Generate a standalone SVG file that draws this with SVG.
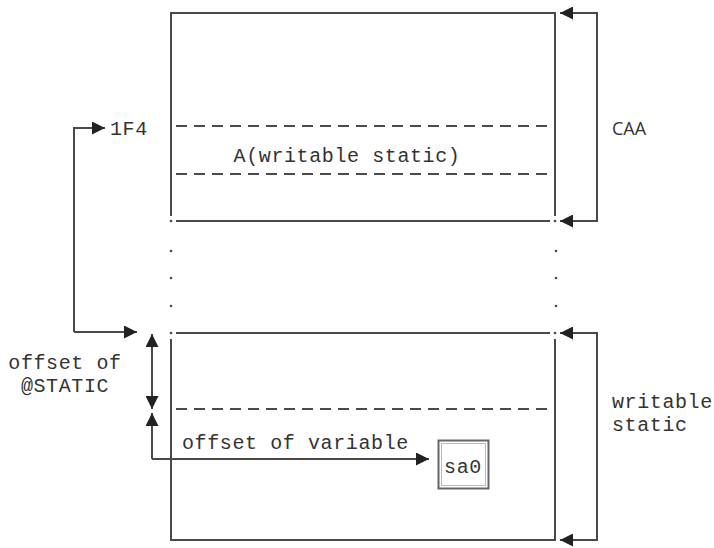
<svg xmlns="http://www.w3.org/2000/svg" width="714" height="548" viewBox="0 0 714 548">
<style>
.ln{stroke:#4a4a4a;stroke-width:2;fill:none}
.ds{stroke:#4a4a4a;stroke-width:2;fill:none;stroke-dasharray:11,7}
.mono{font-family:"Liberation Mono","DejaVu Sans Mono",monospace;font-size:20px;letter-spacing:0.6px;fill:#333}
.sans{font-family:"Open Sans","Liberation Sans",sans-serif;font-size:18px;fill:#333}
.dot{fill:#4a4a4a}
</style>
<defs>
<marker id="ah" viewBox="0 0 10 10" refX="10" refY="5" markerWidth="15" markerHeight="13" markerUnits="userSpaceOnUse" orient="auto">
<path d="M0,0 L10,5 L0,10 z" fill="#222"/>
</marker>
</defs>
<rect width="714" height="548" fill="#fff"/>
<g id="caa-area">
<path class="ln" d="M171,216 V13 H555 V216"/>
<line class="ln" x1="176" y1="221" x2="550" y2="221"/>
<circle class="dot" cx="171" cy="221" r="1.3"/>
<circle class="dot" cx="555" cy="221" r="1.3"/>
<line class="ds" x1="176" y1="126" x2="552" y2="126"/>
<line class="ds" x1="176" y1="174" x2="552" y2="174"/>
<text class="mono" x="347" y="162" text-anchor="middle">A(writable static)</text>
</g>
<g id="gap-dots">
<circle class="dot" cx="171" cy="251" r="1.3"/>
<circle class="dot" cx="171" cy="278" r="1.3"/>
<circle class="dot" cx="171" cy="306" r="1.3"/>
<circle class="dot" cx="556" cy="251" r="1.3"/>
<circle class="dot" cx="556" cy="278" r="1.3"/>
<circle class="dot" cx="556" cy="306" r="1.3"/>
</g>
<g id="writable-static-area">
<line class="ln" x1="176" y1="333" x2="550" y2="333"/>
<circle class="dot" cx="171" cy="333" r="1.3"/>
<circle class="dot" cx="555" cy="333" r="1.3"/>
<path class="ln" d="M171,339 V540 H555 V339"/>
<line class="ds" x1="176" y1="409" x2="552" y2="409"/>
</g>
<g id="sa0">
<rect x="438.5" y="440.5" width="50" height="48" fill="none" stroke="#666" stroke-width="2"/>
<rect x="441.5" y="443.5" width="44" height="42" fill="none" stroke="#bbb" stroke-width="1"/>
<text class="mono" x="463" y="473" text-anchor="middle" font-size="17">sa0</text>
</g>
<g id="labels">
<text class="mono" x="110" y="135">1F4</text>
<text class="sans" x="612" y="135">CAA</text>
<text class="mono" x="65" y="369" text-anchor="middle">offset of</text>
<text class="mono" x="65" y="392" text-anchor="middle">@STATIC</text>
<text class="mono" x="182" y="449">offset of variable</text>
<text class="mono" x="612" y="408">writable</text>
<text class="mono" x="612" y="431">static</text>
</g>
<g id="connectors">
<path class="ln" d="M74,332 V128 H105" marker-end="url(#ah)"/>
<path class="ln" d="M74,332 H137" marker-end="url(#ah)"/>
<line class="ln" x1="152" y1="370" x2="152" y2="334" marker-end="url(#ah)"/>
<line class="ln" x1="152" y1="370" x2="152" y2="409" marker-end="url(#ah)"/>
<path class="ln" d="M152,459 V413" marker-end="url(#ah)"/>
<path class="ln" d="M152,459 H429" marker-end="url(#ah)"/>
<path class="ln" d="M560,13 H597 V221 H560" marker-end="url(#ah)"/>
<path class="ln" d="M597,13 H560" marker-end="url(#ah)"/>
<path class="ln" d="M560,333 H597 V540 H560" marker-end="url(#ah)"/>
<path class="ln" d="M597,333 H560" marker-end="url(#ah)"/>
</g>
</svg>
